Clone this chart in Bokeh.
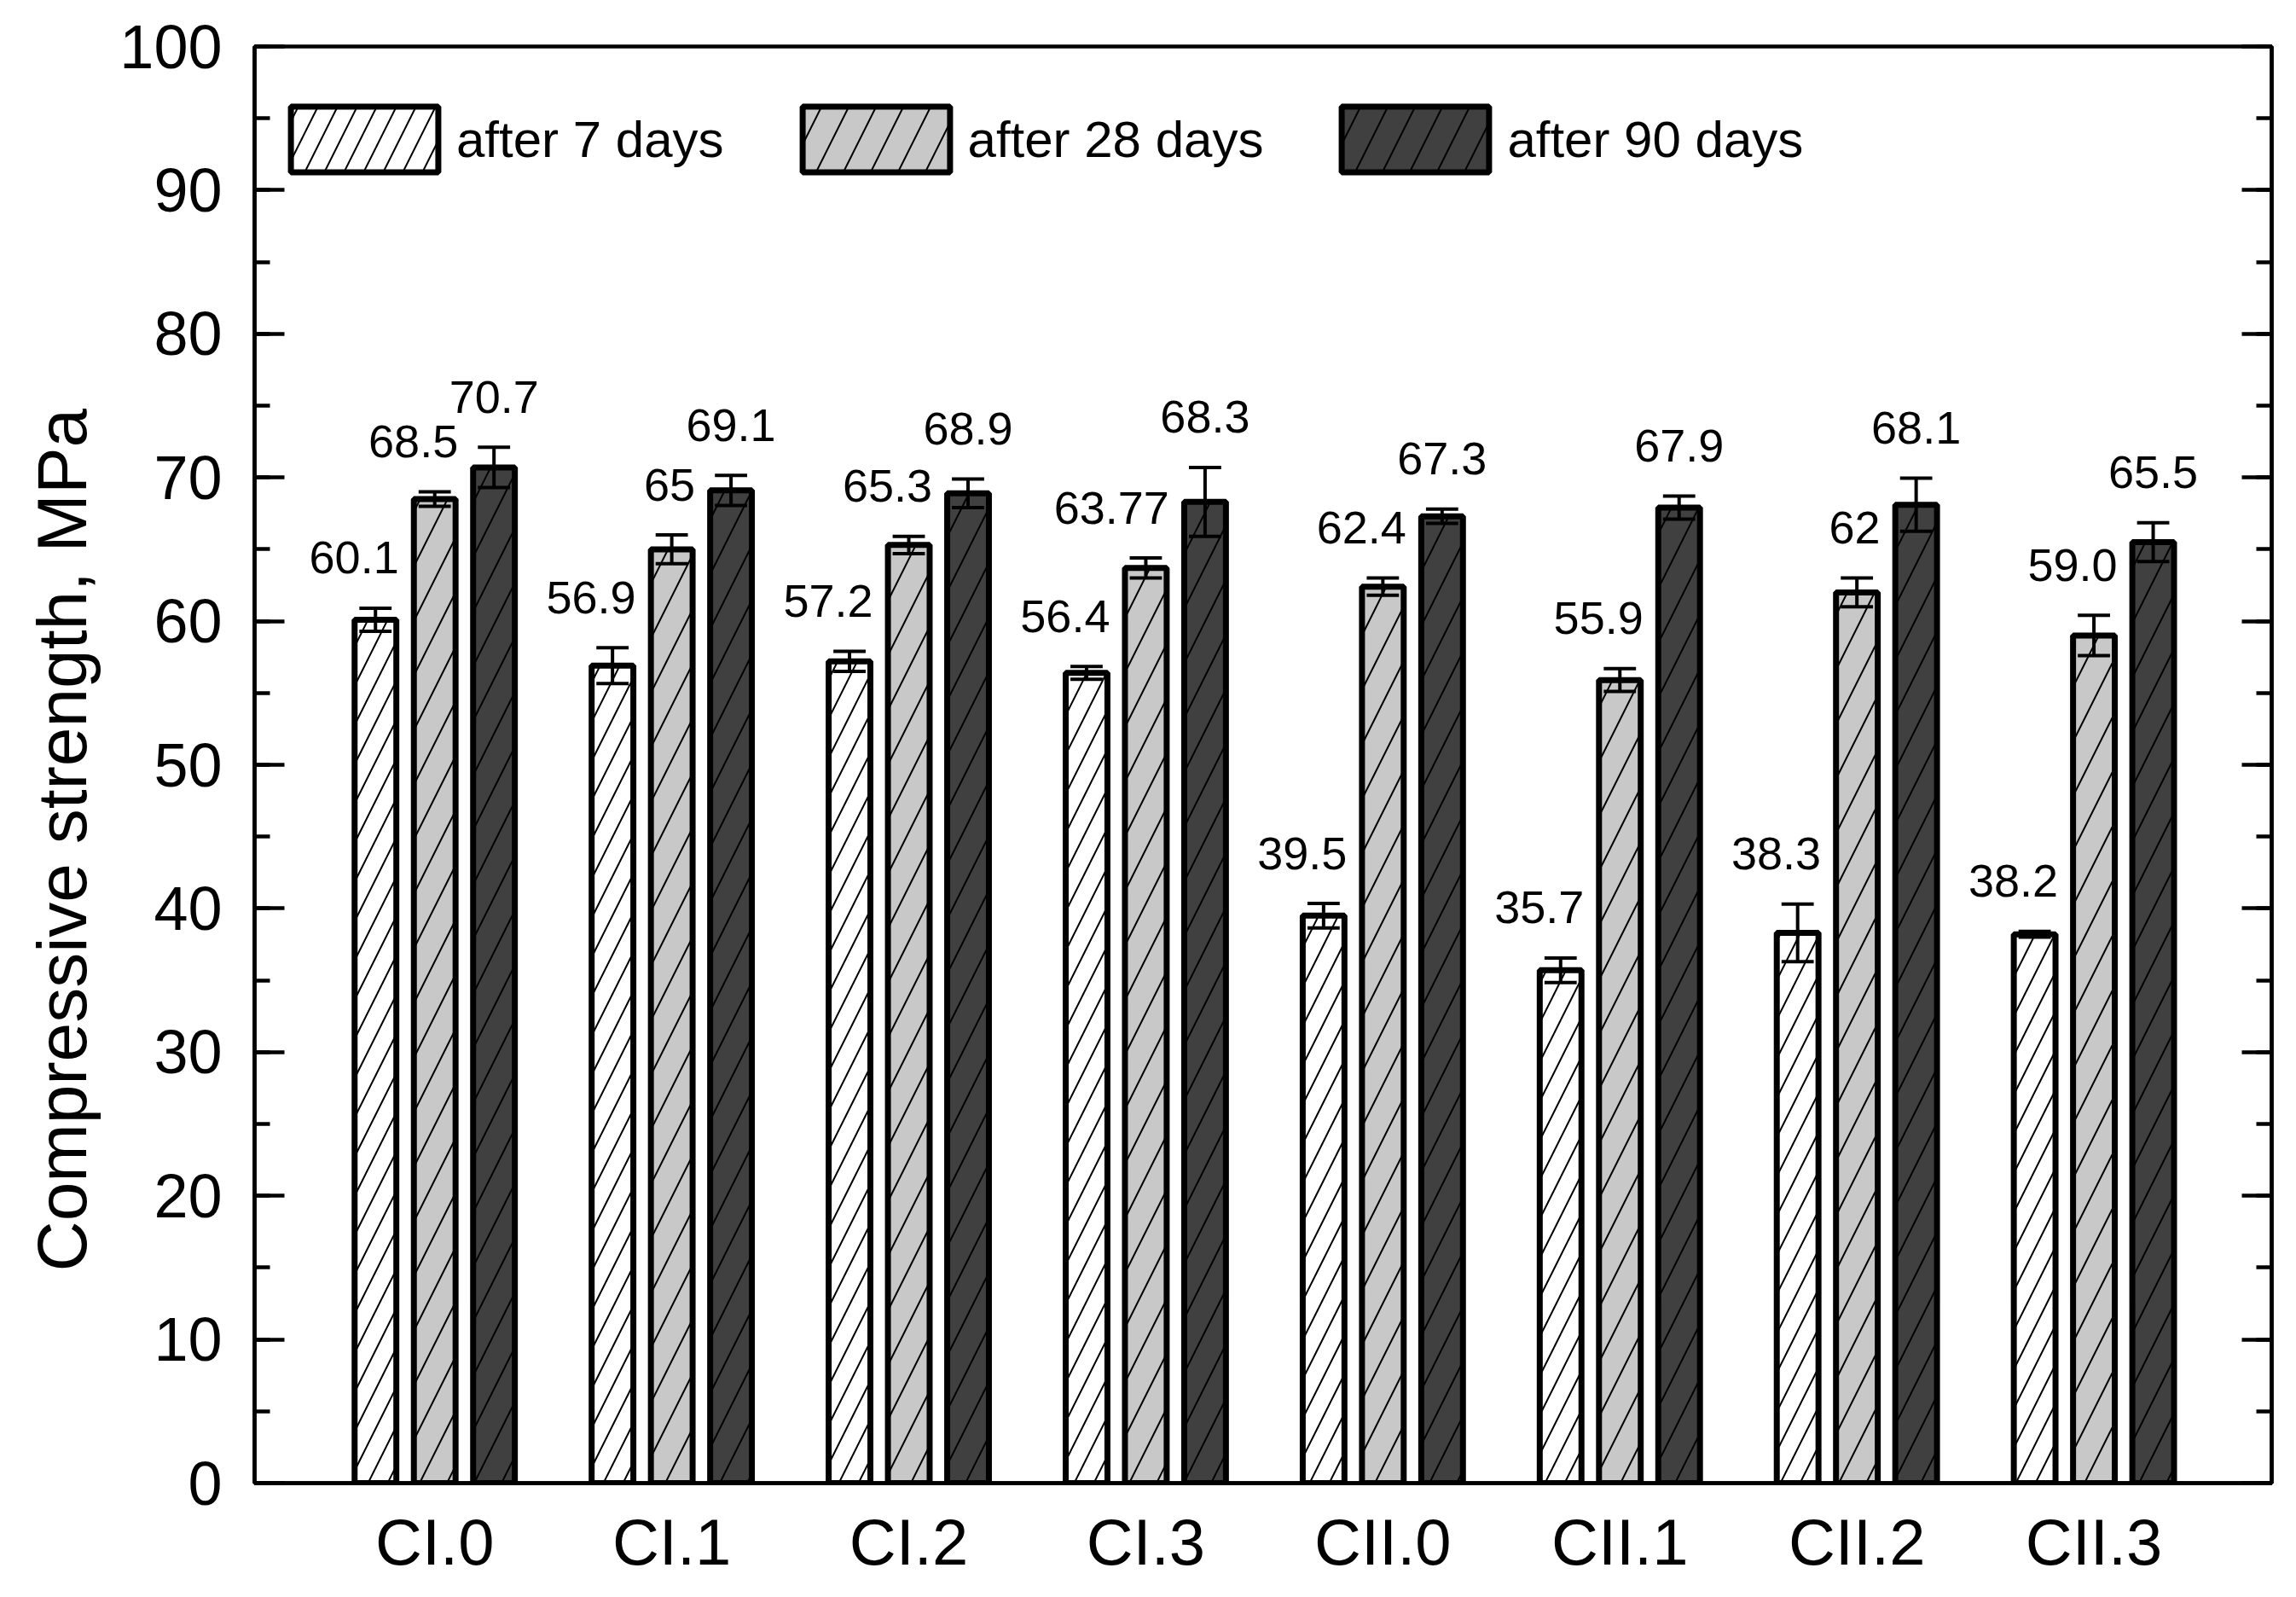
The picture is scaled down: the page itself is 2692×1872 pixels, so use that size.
import numpy as np
from bokeh.plotting import figure
from bokeh.models import (ColumnDataSource, Range1d, FixedTicker, SingleIntervalTicker,
                          LinearAxis, Legend, LegendItem, Title, CustomJSTickFormatter)
from bokeh.core.properties import value
from bokeh.embed import file_html
from bokeh.resources import INLINE

# ---------------- data ----------------
categories = ["CI.0", "CI.1", "CI.2", "CI.3", "CII.0", "CII.1", "CII.2", "CII.3"]
series_names = ["after 7 days", "after 28 days", "after 90 days"]
s7 = [60.1, 56.9, 57.2, 56.4, 39.5, 35.7, 38.3, 38.2]
s28 = [68.5, 65.0, 65.3, 63.7, 62.4, 55.9, 62.0, 59.0]
s90 = [70.7, 69.1, 68.9, 68.3, 67.3, 67.9, 68.1, 65.5]
e7 = [0.8, 1.25, 0.7, 0.45, 0.85, 0.85, 2.0, 0.2]
e28 = [0.5, 1.0, 0.6, 0.7, 0.6, 0.8, 1.0, 1.4]
e90 = [1.4, 1.05, 1.0, 2.4, 0.5, 0.8, 1.85, 1.35]
labels7 = ["60.1", "56.9", "57.2", "56.4", "39.5", "35.7", "38.3", "38.2"]
labels28 = ["68.5", "65", "65.3", "63.77", "62.4", "55.9", "62", "59.0"]
labels90 = ["70.7", "69.1", "68.9", "68.3", "67.3", "67.9", "68.1", "65.5"]
y_ticks_interval = 10

# ---------------- style ----------------
FONT = "Liberation Sans"
fills = ["#ffffff", "#c8c8c8", "#404040"]
hatch_scales = [46, 64, 64]
offsets = [-0.25, 0.0, 0.25]
BAR_W = 0.176
CAP_HALF = 0.068
LW = 7

p = figure(width=2673, height=1856, output_backend="svg", toolbar_location=None,
           x_range=Range1d(-0.76, 7.75), y_range=Range1d(0, 100),
           min_border_left=298, min_border_right=10, min_border_top=54, min_border_bottom=118)
p.xgrid.visible = False
p.ygrid.visible = False
p.outline_line_color = "black"
p.outline_line_width = 4.5
p.background_fill_color = "white"
p.border_fill_color = "white"

xs = np.arange(len(categories), dtype=float)
series = [s7, s28, s90]
errs = [e7, e28, e90]
labs = [labels7, labels28, labels90]

sources = []
for k in range(3):
    x = xs + offsets[k]
    v = np.array(series[k])
    e = np.array(errs[k])
    sources.append(ColumnDataSource(dict(
        x=x, v=v, lo=v - e, hi=v + e,
        cx0=x - CAP_HALF, cx1=x + CAP_HALF,
        xr=x + BAR_W / 2, lab=labs[k])))


def draw_bars(k):
    src = sources[k]
    r = p.vbar(x="x", top="v", bottom=0, width=BAR_W, source=src,
               fill_color=fills[k], line_color="black", line_width=LW,
               hatch_pattern="/", hatch_scale=hatch_scales[k], hatch_weight=2, hatch_color="black")
    p.segment(x0="x", y0="lo", x1="x", y1="hi", source=src, line_color="black", line_width=4)
    p.segment(x0="cx0", y0="hi", x1="cx1", y1="hi", source=src, line_color="black", line_width=4)
    p.segment(x0="cx0", y0="lo", x1="cx1", y1="lo", source=src, line_color="black", line_width=4)
    return r


r7 = draw_bars(0)
r28 = draw_bars(1)

# value labels
for k in range(3):
    src = sources[k]
    if k < 2:
        p.text(x="xr", y="hi", text="lab", source=src, text_align="right", text_baseline="middle",
               x_offset=3, y_offset=-59, text_font=value(FONT),
               text_font_size="54px", text_color="black")
    else:
        p.text(x="x", y="hi", text="lab", source=src, text_align="center", text_baseline="middle",
               y_offset=-59, text_font=value(FONT),
               text_font_size="54px", text_color="black")

r90 = draw_bars(2)

# ---------------- axes ----------------
yax = p.yaxis[0]
yax.ticker = SingleIntervalTicker(interval=y_ticks_interval, num_minor_ticks=2)
yax.major_tick_in = 35
yax.major_tick_out = 0
yax.minor_tick_in = 18
yax.minor_tick_out = 0
yax.major_tick_line_width = 4.5
yax.minor_tick_line_width = 4.5
yax.axis_line_width = 4.5
yax.major_label_standoff = 38
yax.major_label_text_font = FONT
yax.major_label_text_font_size = "72px"
yax.major_label_text_color = "black"

xax = p.xaxis[0]
xax.ticker = FixedTicker(ticks=list(range(len(categories))))
xax.major_label_overrides = {i: c for i, c in enumerate(categories)}
xax.major_tick_in = 0
xax.major_tick_out = 0
xax.minor_tick_in = 0
xax.minor_tick_out = 0
xax.axis_line_width = 4.5
xax.major_label_standoff = 26
xax.major_label_text_font = FONT
xax.major_label_text_font_size = "76px"
xax.major_label_text_color = "black"

rax = LinearAxis(ticker=SingleIntervalTicker(interval=y_ticks_interval, num_minor_ticks=2),
                 formatter=CustomJSTickFormatter(code="return ''"),
                 major_tick_in=35, major_tick_out=0, minor_tick_in=18, minor_tick_out=0,
                 major_tick_line_width=4.5, minor_tick_line_width=4.5, axis_line_width=4.5,
                 major_label_standoff=0)
p.add_layout(rax, "right")

ytitle = Title(text="Compressive strength, MPa", align="left", offset=248, standoff=39,
               text_font=FONT, text_font_size="82px", text_font_style="normal", text_color="black")
p.add_layout(ytitle, "left")

# ---------------- legend ----------------
legend = Legend(items=[LegendItem(label=series_names[0], renderers=[r7]),
                       LegendItem(label=series_names[1], renderers=[r28]),
                       LegendItem(label=series_names[2], renderers=[r90])],
                orientation="horizontal", location=(21, 1527), padding=0, margin=0,
                spacing=70, glyph_width=216, glyph_height=96, label_standoff=-12,
                label_text_font=FONT, label_text_font_size="60px", label_text_color="black",
                border_line_color=None, background_fill_alpha=0)
p.add_layout(legend)

open("out.html", "w").write(file_html(p, INLINE))
